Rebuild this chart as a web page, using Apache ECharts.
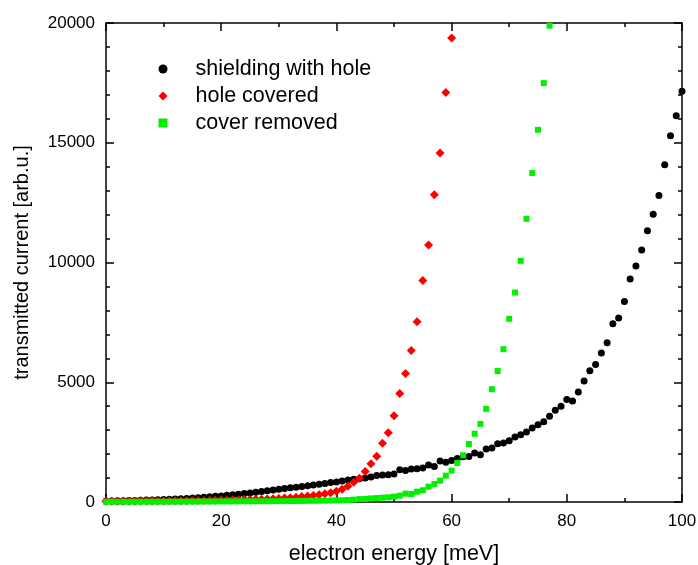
<!DOCTYPE html>
<html>
<head>
<meta charset="utf-8">
<script src="https://cdn.jsdelivr.net/npm/echarts@6/dist/echarts.min.js"></script>
<style>
html,body{margin:0;padding:0;background:#fff;}
#chart{width:698px;height:565px;}
</style>
</head>
<body>
<div id="chart"></div>
<script>
const energy = [0,1,2,3,4,5,6,7,8,9,10,11,12,13,14,15,16,17,18,19,20,21,22,23,24,25,26,27,28,29,30,31,32,33,34,35,36,37,38,39,40,41,42,43,44,45,46,47,48,49,50,51,52,53,54,55,56,57,58,59,60,61,62,63,64,65,66,67,68,69,70,71,72,73,74,75,76,77,78,79,80,81,82,83,84,85,86,87,88,89,90,91,92,93,94,95,96,97,98,99,100];

const shieldingWithHole = [40,45,50,55,60,65,70,80,85,95,105,115,125,140,150,165,180,200,215,235,255,280,300,325,350,380,410,440,470,500,530,560,590,620,650,680,705,745,775,815,840,875,915,945,970,1000,1040,1110,1125,1140,1165,1345,1320,1375,1390,1415,1540,1485,1710,1655,1735,1820,1890,1905,2045,1975,2210,2255,2435,2460,2560,2710,2810,2920,3090,3230,3355,3580,3830,4000,4275,4220,4595,5055,5475,5740,6225,6645,7440,7680,8375,9310,9855,10525,11330,12015,12795,14080,15295,16130,17150];

const holeCovered = [30,30,30,35,35,35,40,40,40,45,45,50,50,55,55,60,60,65,70,75,80,85,90,95,100,105,110,120,130,140,150,165,180,200,225,250,275,300,340,390,450,530,660,820,995,1270,1600,1910,2450,2890,3600,4530,5370,6330,7530,9250,10730,12830,14570,17100,19370];

const coverRemoved = [10,10,10,10,10,12,12,12,14,14,15,15,16,17,18,19,20,21,22,23,24,25,26,27,28,29,30,32,33,35,37,38,40,42,44,47,50,53,57,62,68,72,84,97,120,125,150,165,180,195,225,265,350,335,430,490,640,750,890,1100,1310,1630,1950,2420,2850,3260,3890,4710,5470,6380,7650,8745,10070,11825,13735,15540,17490,19890];

const seriesNames = ['shielding with hole', 'hole covered', 'cover removed'];
const xTicks = {min: 0, max: 100, interval: 20};
const yTicks = {min: 0, max: 20000, interval: 5000};

function pairs(vals) { return vals.map((v, i) => [energy[i], v]); }

const FONT = 'Liberation Sans, Arial, sans-serif';
const axisLineStyle = {show: true, onZero: false, lineStyle: {color: '#000', width: 1.5}};

function xAxisDef(pos, showLabel) {
  return {
    type: 'value', position: pos, min: xTicks.min, max: xTicks.max, interval: xTicks.interval,
    axisLine: axisLineStyle,
    axisTick: {show: true, inside: true, length: 8, lineStyle: {color: '#000', width: 1.5}},
    minorTick: {show: true, splitNumber: 2, length: 4, lineStyle: {color: '#000', width: 1.5}},
    splitLine: {show: false}, minorSplitLine: {show: false},
    axisLabel: {show: showLabel, fontSize: 17, color: '#000', fontFamily: FONT, margin: 11,
                formatter: v => String(v)},
    name: showLabel ? 'electron energy [meV]' : '',
    nameLocation: 'middle', nameGap: 41,
    nameTextStyle: {fontSize: 21.5, color: '#000', fontFamily: FONT}
  };
}
function yAxisDef(pos, showLabel) {
  return {
    type: 'value', position: pos, min: yTicks.min, max: yTicks.max, interval: yTicks.interval,
    axisLine: axisLineStyle,
    axisTick: {show: true, inside: true, length: 8, lineStyle: {color: '#000', width: 1.5}},
    minorTick: {show: true, splitNumber: 5, length: 4, lineStyle: {color: '#000', width: 1.5}},
    splitLine: {show: false}, minorSplitLine: {show: false},
    axisLabel: {show: showLabel, fontSize: 17, color: '#000', fontFamily: FONT, margin: 11,
                formatter: v => String(v)},
    name: showLabel ? 'transmitted current [arb.u.]' : '',
    nameLocation: 'middle', nameGap: 74,
    nameTextStyle: {fontSize: 20, color: '#000', fontFamily: FONT}
  };
}

const chart = echarts.init(document.getElementById('chart'), null, {renderer: 'canvas'});
chart.setOption({
  animation: false,
  backgroundColor: '#fff',
  grid: {left: 106, right: 16, top: 23, bottom: 63, containLabel: false, outerBoundsMode: 'none'},
  legend: {
    orient: 'vertical', left: 158.5, top: 58, itemWidth: 9, itemHeight: 9, itemGap: 5,
    padding: 0,
    textStyle: {fontSize: 21.5, color: '#000', fontFamily: FONT, lineHeight: 21.5, padding: [0, 0, 0, 23]},
    data: [
      {name: seriesNames[0], icon: 'circle', itemStyle: {color: '#000000'}},
      {name: seriesNames[1], icon: 'diamond', itemStyle: {color: '#ff0000'}},
      {name: seriesNames[2], icon: 'rect', itemStyle: {color: '#00f000'}}
    ]
  },
  xAxis: [xAxisDef('bottom', true), xAxisDef('top', false)],
  yAxis: [yAxisDef('left', true), yAxisDef('right', false)],
  series: [
    {name: seriesNames[0], type: 'scatter', symbol: 'circle', symbolSize: 7,
     itemStyle: {color: '#000000', opacity: 1}, data: pairs(shieldingWithHole), xAxisIndex: 0, yAxisIndex: 0},
    {name: seriesNames[1], type: 'scatter', symbol: 'diamond', symbolSize: 9,
     itemStyle: {color: '#ff0000', opacity: 1}, data: pairs(holeCovered), xAxisIndex: 0, yAxisIndex: 0},
    {name: seriesNames[2], type: 'scatter', symbol: 'rect', symbolSize: 6,
     itemStyle: {color: '#00f000', opacity: 1}, data: pairs(coverRemoved), xAxisIndex: 0, yAxisIndex: 0}
  ]
});
</script>
</body>
</html>
